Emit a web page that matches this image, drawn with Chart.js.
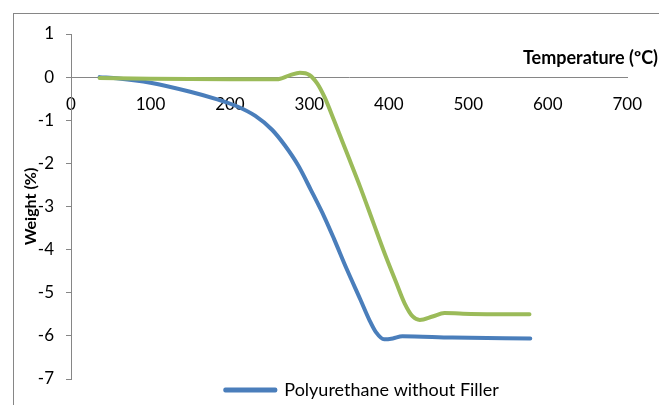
<!DOCTYPE html>
<html>
<head>
<meta charset="utf-8">
<script src="https://cdn.jsdelivr.net/npm/chart.js@4/dist/chart.umd.min.js"></script>
<style>
  html, body { margin: 0; padding: 0; background: #fff; }
  #wrap { width: 659px; height: 405px; }
</style>
</head>
<body>
<div id="wrap"><canvas id="tgaChart"></canvas></div>
<script>
// temperature (°C) and weight (%)
const tempPlain = [36, 60, 100, 150, 183, 208, 232, 253, 269, 286, 302, 319, 331, 347, 364, 376, 384, 394, 405, 417, 480, 578];
const weightPlain = [0, -0.03, -0.13, -0.34, -0.51, -0.67, -0.9, -1.22, -1.58, -2.05, -2.62, -3.25, -3.75, -4.45, -5.15, -5.65, -5.92, -6.08, -6.06, -6.01, -6.04, -6.06];

const tempFilled = [36, 100, 200, 259, 275, 288, 300, 310, 319, 331, 347, 364, 380, 395, 409, 420, 430, 439, 455, 470, 503, 577];
const weightFilled = [-0.02, -0.04, -0.05, -0.05, 0.04, 0.1, 0.05, -0.15, -0.46, -1.0, -1.75, -2.55, -3.35, -4.1, -4.75, -5.25, -5.55, -5.63, -5.55, -5.47, -5.49, -5.5];

const seriesNames = ['Polyurethane without Filler', 'Polyurethane with Filler'];
const xTitle = 'Temperature (ºC)';
const yTitle = 'Weight (%)';

const toPoints = (xs, ys) => xs.map((x, i) => ({ x: x, y: ys[i] }));

const AXIS_GREY = '#868686';
const FONT = 'Lato, "Open Sans", sans-serif';

// outer frame, axis titles, legend nudge
const framePlugin = {
    id: 'frame',
    afterLayout(chart) {
        chart.legend.left += 13;
        chart.legend.right += 13;
    },
    beforeDraw(chart) {
        const c = chart.ctx;
        c.save();
        c.strokeStyle = AXIS_GREY;
        c.lineWidth = 1;
        c.strokeRect(13.5, 13.5, 800, 600);
        c.restore();
    },
    afterDraw(chart) {
        const c = chart.ctx;
        c.save();
        c.fillStyle = '#000';
        c.textBaseline = 'middle';
        c.textAlign = 'right';
        c.font = 'bold 18px ' + FONT;
        c.fillText(xTitle, 658, 58);
        c.font = 'bold 16px ' + FONT;
        c.translate(31, (chart.chartArea.top + chart.chartArea.bottom) / 2);
        c.rotate(-Math.PI / 2);
        c.textAlign = 'center';
        c.fillText(yTitle, 0, 0);
        c.restore();
    }
};

new Chart(document.getElementById('tgaChart'), {
    type: 'scatter',
    data: {
        datasets: [{
            label: seriesNames[0],
            data: toPoints(tempPlain, weightPlain),
            order: 1,
            showLine: true,
            borderColor: '#4A7EBB',
            backgroundColor: '#4A7EBB',
            borderWidth: 4,
            borderCapStyle: 'round',
            borderJoinStyle: 'round',
            cubicInterpolationMode: 'monotone',
            pointRadius: 0
        }, {
            label: seriesNames[1],
            data: toPoints(tempFilled, weightFilled),
            order: 0,
            showLine: true,
            borderColor: '#9BBB59',
            backgroundColor: '#9BBB59',
            borderWidth: 4,
            borderCapStyle: 'round',
            borderJoinStyle: 'round',
            cubicInterpolationMode: 'monotone',
            pointRadius: 0
        }]
    },
    options: {
        responsive: true,
        maintainAspectRatio: false,
        animation: false,
        layout: { padding: { left: 0, top: 34, right: 19, bottom: -4 } },
        plugins: {
            tooltip: { enabled: false },
            legend: {
                position: 'bottom',
                fullSize: false,
                labels: {
                    padding: 2,
                    boxWidth: 50,
                    boxHeight: 1,
                    color: '#000',
                    font: { family: FONT, size: 18 },
                    filter: item => item.datasetIndex === 0
                }
            }
        },
        scales: {
            x: {
                type: 'linear',
                position: { y: 0 },
                min: 0,
                max: 700,
                grid: { display: false, drawTicks: false },
                border: { display: true, color: AXIS_GREY, width: 1 },
                ticks: {
                    stepSize: 100,
                    padding: 17,
                    maxRotation: 0,
                    color: '#000',
                    font: { family: FONT, size: 17 }
                }
            },
            y: {
                min: -7,
                max: 1,
                afterFit: scale => { scale.width = 71; },
                grid: { drawOnChartArea: false, drawTicks: true, tickLength: 5, color: AXIS_GREY },
                border: { display: true, color: AXIS_GREY, width: 1 },
                ticks: {
                    stepSize: 1,
                    padding: 12,
                    color: '#000',
                    font: { family: FONT, size: 17 }
                }
            }
        }
    },
    plugins: [framePlugin]
});
</script>
</body>
</html>
